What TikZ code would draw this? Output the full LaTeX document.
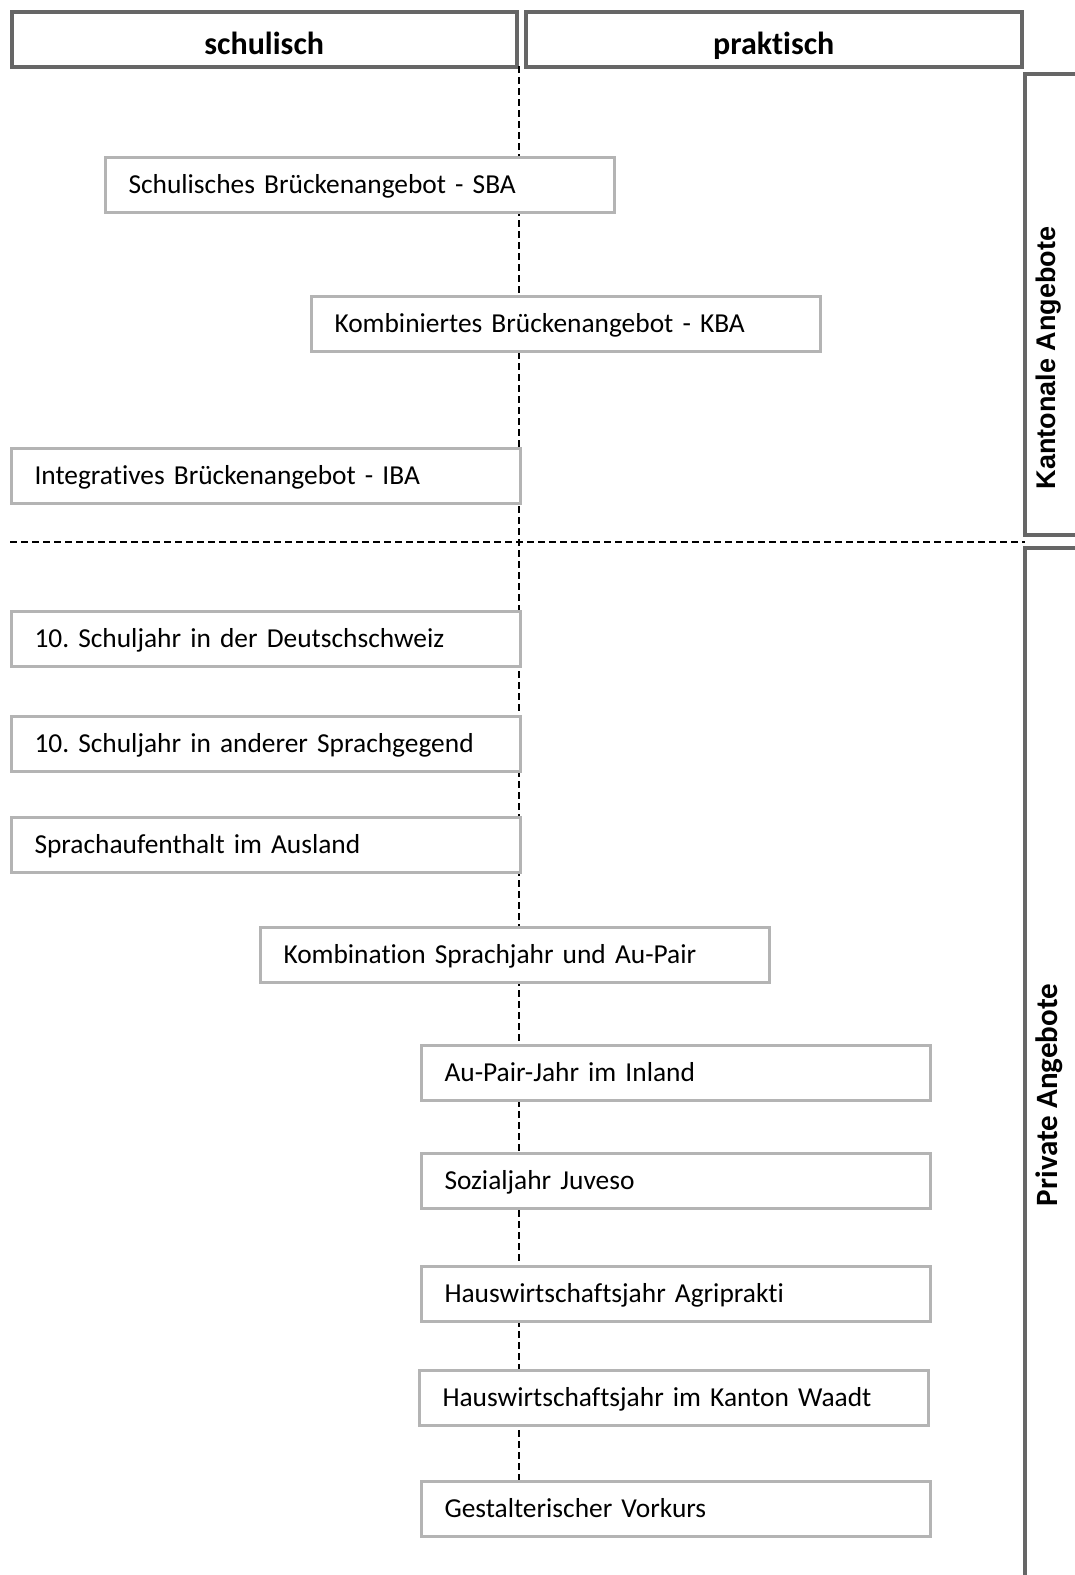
\documentclass[tikz,border=0pt]{standalone}
\usepackage{fontspec}
\setmainfont{Carlito}[Ligatures=NoCommon]
\newfontfamily\arialf{Liberation Sans}
\definecolor{hdrgray}{HTML}{666666}
\definecolor{boxgray}{HTML}{B4B4B4}
\frenchspacing
\begin{document}
\begin{tikzpicture}[x=1pt,y=-1pt,
  offer/.style={draw=boxgray, line width=3pt, fill=white, anchor=north west,
    minimum height=55pt, text width=463pt, inner xsep=23pt, inner ysep=0pt, align=left,
    text height=20pt, text depth=4pt,
    font=\fontsize{27.4}{31}\selectfont},
  hdr/.style={draw=hdrgray, line width=3.5pt, fill=white, anchor=north west,
    minimum height=55pt, inner sep=0pt, text height=33pt, text depth=3pt,
    font=\bfseries\fontsize{32}{36}\selectfont},
  bracket/.style={draw=hdrgray, line width=3.5pt},
  sep/.style={dashed, dash pattern=on 7pt off 4pt, line width=1.5pt, black},
  side/.style={rotate=90, inner sep=0pt}]
\useasboundingbox (0,0) rectangle (1075,1575);

% header boxes
\node[hdr, minimum width=505pt] (schul) at (10,10) {schulisch};
\node[hdr, minimum width=496pt] (prakt) at (524,10) {praktisch};

% dashed separators
\coordinate (vtop) at (519,66);
\coordinate (hl) at (10,542);
\coordinate (hr) at (1025,542);
\coordinate (vbot) at (519,1480);
\draw[sep] (vtop) -- (vbot);
\draw[sep] (hl) -- (hr);

% right brackets
\draw[bracket] (1080,74) -- (1025,74) -- (1025,535) -- (1080,535);
\draw[bracket] (1080,548) -- (1025,548) -- (1025,1580);
\node[side, font=\arialf\bfseries\fontsize{27}{30}\selectfont] (kant) at (1049,358) {Kantonale Angebote};
\node[side, font=\bfseries\fontsize{31}{34}\selectfont] (priv) at (1049,1095) {Private Angebote};

% offers
\node[offer] (sba) at (104,156) {Schulisches Brückenangebot - SBA};
\node[offer] (kba) at (310,295) {Kombiniertes Brückenangebot - KBA};
\node[offer] (iba) at (10,447) {Integratives Brückenangebot - IBA};
\node[offer] (d10) at (10,610) {10. Schuljahr in der Deutschschweiz};
\node[offer] (a10) at (10,715) {10. Schuljahr in anderer Sprachgegend};
\node[offer] (spr) at (10,816) {Sprachaufenthalt im Ausland};
\node[offer] (kom) at (259,926) {Kombination Sprachjahr und Au-Pair};
\node[offer] (aup) at (420,1044) {Au-Pair-Jahr im Inland};
\node[offer] (soz) at (420,1152) {Sozialjahr Juveso};
\node[offer] (agr) at (420,1265) {Hauswirtschaftsjahr Agriprakti};
\node[offer] (waa) at (418,1369) {Hauswirtschaftsjahr im Kanton Waadt};
\node[offer] (ges) at (420,1480) {Gestalterischer Vorkurs};
\end{tikzpicture}
\end{document}
